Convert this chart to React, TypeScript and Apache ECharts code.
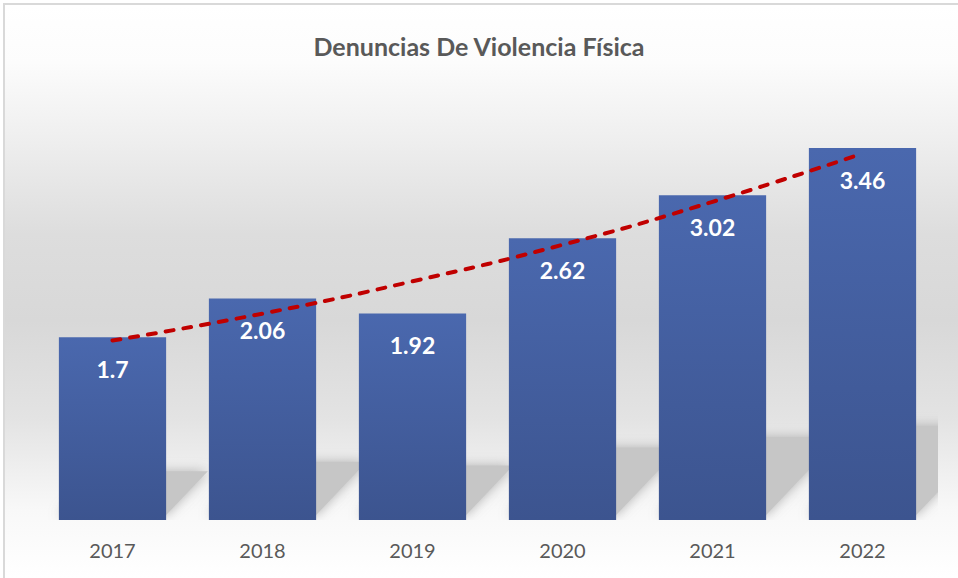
import React, { useEffect, useRef } from "react";
import * as echarts from "echarts";

const categories = ["2017", "2018", "2019", "2020", "2021", "2022"];
const values = [1.7, 2.06, 1.92, 2.62, 3.02, 3.46];
// dashed trend line
const trend = [1.67, 1.92, 2.22, 2.56, 2.96, 3.41];
const titleText = "Denuncias De Violencia Física";

const BAR_FRACTION = 0.715;

export default function App() {
  const ref = useRef<HTMLDivElement>(null);
  useEffect(() => {
    document.body.style.margin = "0";
    if (!ref.current) return;
    const chart = echarts.init(ref.current, undefined, { renderer: "svg" });
    const option: any = {
      animation: false,
      backgroundColor: "#ffffff",
      title: {
        text: titleText,
        left: "center",
        top: 28,
        textStyle: {
          fontFamily: "Lato",
          fontWeight: "bold",
          fontSize: 25,
          color: "#595959",
        },
      },
      graphic: [
        {
          type: "rect",
          z: -10,
          silent: true,
          shape: { x: 5, y: 5, width: 953, height: 573 },
          style: {
            fill: new echarts.graphic.LinearGradient(0, 0, 0, 1, [
              { offset: 0, color: "#ffffff" },
              { offset: 0.1, color: "#fcfcfc" },
              { offset: 0.22, color: "#f0f0f0" },
              { offset: 0.4, color: "#dddddd" },
              { offset: 0.55, color: "#d8d8d8" },
              { offset: 0.72, color: "#e3e3e3" },
              { offset: 0.88, color: "#f8f8f8" },
              { offset: 1, color: "#ffffff" },
            ]),
          },
        },
        {
          type: "rect",
          z: -9,
          silent: true,
          shape: { x: 4, y: 4, width: 1000, height: 1000 },
          style: { fill: "none", stroke: "#d9d9d9", lineWidth: 2 },
        },
      ],
      grid: { left: 37.5, right: 20.5, top: 90, bottom: 58 },
      xAxis: {
        type: "category",
        data: categories,
        axisLine: { show: false },
        axisTick: { show: false },
        axisLabel: {
          margin: 20,
          fontFamily: "Lato",
          fontSize: 20,
          color: "#595959",
        },
      },
      yAxis: {
        type: "value",
        min: 0,
        max: 4,
        show: false,
        splitLine: { show: false },
      },
      series: [
        {
          type: "custom",
          z: 1,
          clip: true,
          silent: true,
          data: values.map((v, i) => [i, v]),
          renderItem: (params: any, api: any) => {
            const idx = api.value(0);
            const val = api.value(1);
            const top = api.coord([idx, val]);
            const base = api.coord([idx, 0]);
            const cw = api.size([1, 0])[0];
            const bw = cw * BAR_FRACTION;
            const L = base[0] - bw / 2;
            const R = base[0] + bw / 2;
            const B = base[1] - 5;
            const H = base[1] - top[1];
            const h = 0.24 * H;
            const dx = h * 0.95;
            return {
              type: "polygon",
              shape: {
                points: [
                  [L, B],
                  [R, B],
                  [R + dx, B - h],
                  [L + dx, B - h],
                ],
              },
              style: {
                fill: "#c6c6c6",
                shadowBlur: 12,
                shadowColor: "rgba(170,170,170,0.9)",
              },
            };
          },
        },
        {
          type: "bar",
          z: 2,
          data: values,
          barWidth: BAR_FRACTION * 100 + "%",
          itemStyle: {
            color: new echarts.graphic.LinearGradient(0, 0, 0, 1, [
              { offset: 0, color: "#4a68ae" },
              { offset: 1, color: "#3c548f" },
            ]),
          },
          label: {
            show: true,
            position: "insideTop",
            distance: 20,
            color: "#ffffff",
            fontFamily: "Lato",
            fontWeight: "bold",
            fontSize: 23,
          },
        },
        {
          type: "line",
          z: 3,
          data: trend,
          smooth: true,
          symbol: "none",
          silent: true,
          lineStyle: {
            color: "#c00000",
            width: 4,
            type: [8, 10],
            cap: "round",
          },
        },
      ],
    };
    chart.setOption(option);
    return () => chart.dispose();
  }, []);
  return <div ref={ref} style={{ width: 958, height: 578 }} />;
}
